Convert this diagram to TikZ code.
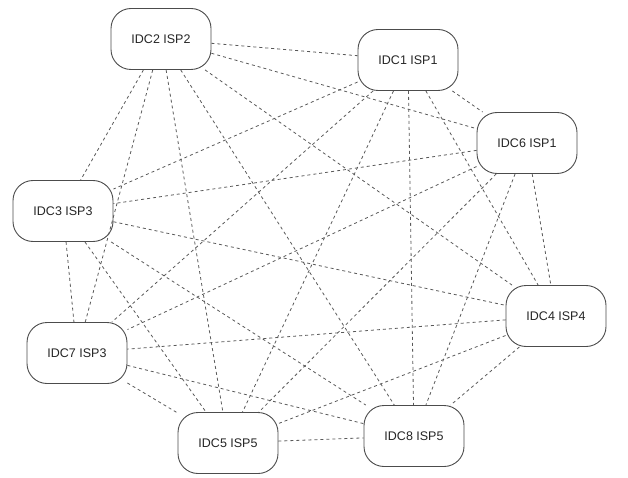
\documentclass[tikz,border=0pt]{standalone}
\usepackage{fontspec}
\setmainfont{Liberation Sans}
\begin{document}
\begin{tikzpicture}[x=1pt,y=-1pt,
  box/.style={draw=black!70, line width=0.9pt, fill=white, rounded corners=20pt,
    minimum width=100pt, minimum height=61pt, inner sep=0pt,
    font=\fontsize{12.5}{14}\selectfont, text=black!85},
  link/.style={draw=black!65, line width=0.8pt, dash pattern=on 3pt off 3pt}]
\useasboundingbox (0,0) rectangle (628,478);
\node[box] (n2) at (161,39) {IDC2 ISP2};
\node[box] (n1) at (408,60) {IDC1 ISP1};
\node[box] (n6) at (527,143) {IDC6 ISP1};
\node[box] (n3) at (63,211) {IDC3 ISP3};
\node[box] (n4) at (556,316) {IDC4 ISP4};
\node[box] (n7) at (77,353) {IDC7 ISP3};
\node[box] (n5) at (228,443) {IDC5 ISP5};
\node[box] (n8) at (414,436) {IDC8 ISP5};
\foreach \a/\b in {n2/n1,n2/n6,n2/n3,n2/n4,n2/n7,n2/n5,n2/n8,
                   n1/n6,n1/n3,n1/n4,n1/n7,n1/n5,n1/n8,
                   n6/n3,n6/n4,n6/n7,n6/n5,n6/n8,
                   n3/n4,n3/n7,n3/n5,n3/n8,
                   n4/n7,n4/n5,n4/n8,
                   n7/n5,n7/n8,
                   n5/n8}
  \draw[link] (\a) -- (\b);
\end{tikzpicture}
\end{document}
